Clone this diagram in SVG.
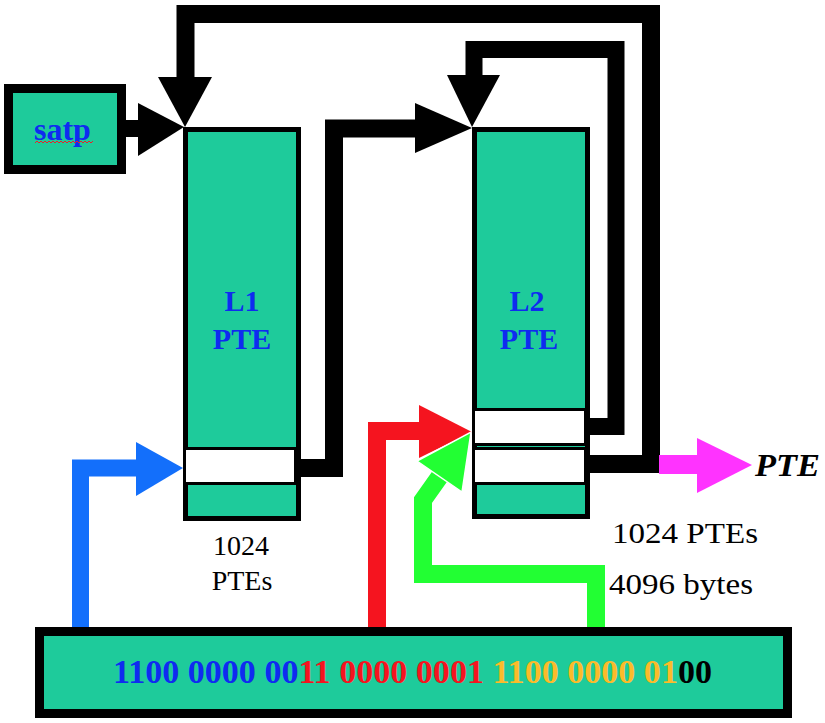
<svg xmlns="http://www.w3.org/2000/svg" width="825" height="723" viewBox="0 0 825 723">
<style>
.box{fill:#1ecb9b;stroke:#000}
.entry{fill:#fff;stroke:#000;stroke-width:3}
.lbl{font-family:'Liberation Serif','DejaVu Serif',serif;font-weight:bold;fill:#0f2bf0}
.txt{font-family:'Liberation Serif','DejaVu Serif',serif;fill:#000}
.bits{font-family:'Liberation Serif','DejaVu Serif',serif;font-weight:bold;font-size:33.7px}
.blk{fill:none;stroke:#000;stroke-linejoin:miter}
</style>
<rect width="825" height="723" fill="#fff"/>
<g id="connectors">
  <path class="blk" d="M586 464 H651 V14 H185.5 V80" stroke-width="18"/>
  <polygon points="158,77 185,127 212,77" fill="#000"/>
  <path class="blk" d="M586 426.5 H616 V49.5 H474 V78" stroke-width="17"/>
  <polygon points="447,75 472,127 500,75" fill="#000"/>
  <path class="blk" d="M296 468 H334 V128.5 H420" stroke-width="18"/>
  <polygon points="415,103 472,128 415,153" fill="#000"/>
  <path class="blk" d="M124 128.5 H142" stroke-width="17"/>
  <polygon points="138,103 184,127 138,156" fill="#000"/>
  <path d="M659 464.5 H700" stroke="#ff33ff" stroke-width="19" fill="none"/>
  <polygon points="697,438 752,465 697,493" fill="#ff33ff"/>
  <path d="M80.5 628 V468 H140" stroke="#136ffb" stroke-width="17" fill="none" stroke-linejoin="miter"/>
  <polygon points="136,442 183,468 136,496" fill="#136ffb"/>
  <path d="M377 628 V431 H423" stroke="#f5141f" stroke-width="18" fill="none" stroke-linejoin="miter"/>
  <polygon points="419,405 472,432 419,458" fill="#f5141f"/>
  <path d="M596 628 V574 H423 V500 L445 469" stroke="#22ff33" stroke-width="18" fill="none" stroke-linejoin="miter"/>
  <polygon points="417,461 471,432 462,492" fill="#22ff33" stroke="#fff" stroke-width="1.5"/>
</g>
<g id="satp">
  <rect class="box" x="8.5" y="88.5" width="113" height="81" stroke-width="9"/>
  <text class="lbl" x="34" y="140" font-size="32">satp</text>
  <path d="M35 143 l2 -2 l2 2 l2 -2 l2 2 l2 -2 l2 2 l2 -2 l2 2 l2 -2 l2 2 l2 -2 l2 2 l2 -2 l2 2 l2 -2 l2 2 l2 -2 l2 2 l2 -2 l2 2 l2 -2 l2 2 l2 -2 l2 2 l2 -2 l2 2 l2 -2 l2 2 l2 -2" fill="none" stroke="#e8202a" stroke-width="1"/>
</g>
<g id="L1">
  <rect class="box" x="185.5" y="129.5" width="113" height="389" stroke-width="5"/>
  <rect class="entry" x="184.5" y="448.5" width="111" height="35"/>
  <text class="lbl" x="242" y="311" font-size="30" text-anchor="middle">L1</text>
  <text class="lbl" x="242" y="349" font-size="30" text-anchor="middle">PTE</text>
</g>
<g id="L2">
  <rect class="box" x="474.5" y="129.5" width="113" height="387" stroke-width="5"/>
  <rect class="entry" x="473.5" y="409.5" width="112" height="35"/>
  <rect class="entry" x="473.5" y="448.5" width="112" height="35"/>
  <text class="lbl" x="527" y="311" font-size="30" text-anchor="middle">L2</text>
  <text class="lbl" x="529" y="349" font-size="30" text-anchor="middle">PTE</text>
</g>
<g id="labels">
  <text class="txt" x="241" y="555" font-size="28" text-anchor="middle">1024</text>
  <text class="txt" x="242" y="590" font-size="28" text-anchor="middle">PTEs</text>
  <text class="txt" x="612" y="543" font-size="30" textLength="146" lengthAdjust="spacingAndGlyphs">1024 PTEs</text>
  <text class="txt" x="609" y="594" font-size="30" textLength="144" lengthAdjust="spacingAndGlyphs">4096 bytes</text>
  <text class="txt" x="755" y="476" font-size="32" font-weight="bold" font-style="italic" textLength="65" lengthAdjust="spacingAndGlyphs">PTE</text>
</g>
<g id="address">
  <rect class="box" x="39.5" y="631.5" width="748" height="82" stroke-width="9"/>
  <text class="bits" x="113" y="683" textLength="599" lengthAdjust="spacingAndGlyphs"><tspan fill="#0f2bf0">1100 0000 00</tspan><tspan fill="#f5141f">11 0000 0001 </tspan><tspan fill="#fbbb2a">1100 0000 01</tspan><tspan fill="#000">00</tspan></text>
</g>
</svg>
